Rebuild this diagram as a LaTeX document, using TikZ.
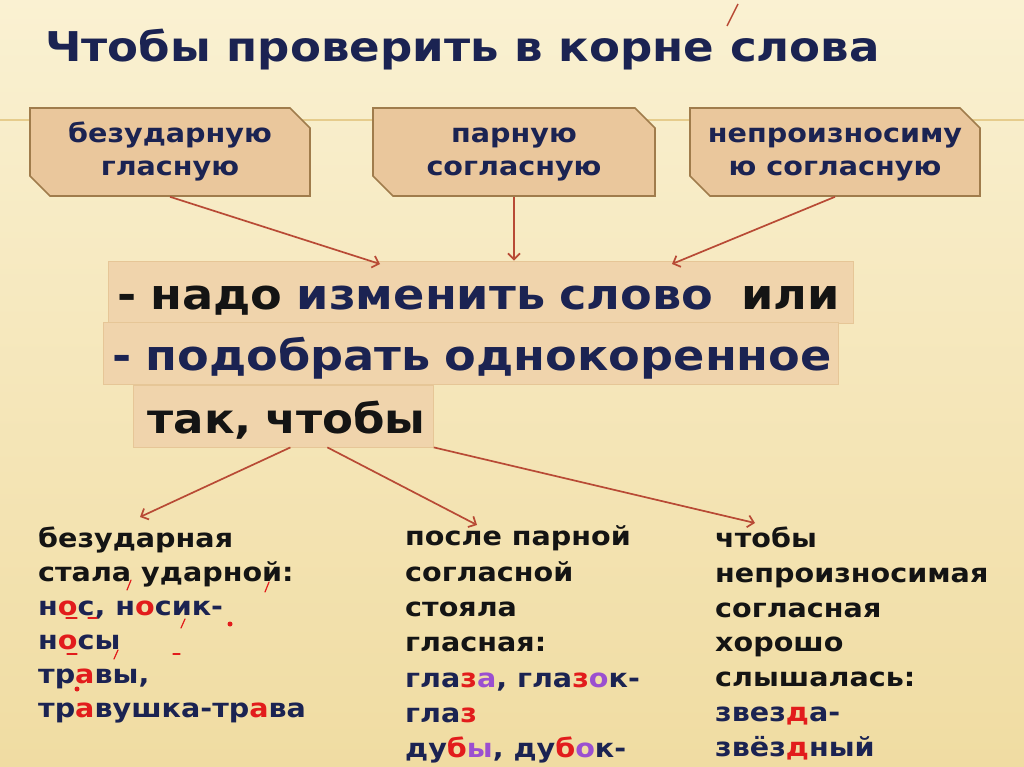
\documentclass[tikz,border=0pt]{standalone}
\usepackage{fontspec}
\setmainfont{DejaVu Sans}[FakeStretch=1.1]
\usetikzlibrary{arrows.meta, shapes.misc}

\definecolor{navy}{HTML}{1B2352}
\definecolor{inkblack}{HTML}{141414}
\definecolor{boxfill}{HTML}{EAC79C}
\definecolor{boxline}{HTML}{A07C4C}
\definecolor{bandfill}{HTML}{F0D4AC}
\definecolor{bandline}{HTML}{E6C697}
\definecolor{arrowred}{HTML}{B84A35}
\definecolor{letterred}{HTML}{E21C1C}
\definecolor{letterviolet}{HTML}{9B4FD0}
\definecolor{rulegold}{HTML}{E6CC8C}
\definecolor{bgtop}{HTML}{FAF1D2}
\definecolor{bgbottom}{HTML}{F0DCA2}

\newcommand{\redch}[1]{\textcolor{letterred}{#1}}
\newcommand{\violch}[1]{\textcolor{letterviolet}{#1}}

\begin{document}
\begin{tikzpicture}[x=1pt, y=-1pt,
    topbox/.style={chamfered rectangle, chamfered rectangle corners={north east, south west},
        chamfered rectangle xsep=10pt, chamfered rectangle ysep=10pt,
        draw=boxline, line width=1.6pt, fill=boxfill, text=navy, align=center,
        minimum height=88pt, font=\bfseries\fontsize{26}{33}\selectfont},
    band/.style={fill=bandfill, draw=bandline, line width=0.8pt, anchor=west, align=left,
        inner xsep=9pt, inner ysep=0pt, text height=48pt, text depth=14pt,
        font=\bfseries\fontsize{42}{48}\selectfont},
    column/.style={anchor=north west, align=left, inner sep=0pt, text=inkblack},
    pointer/.style={-{Straight Barb[length=6pt, width=12pt]}, draw=arrowred, line width=1.7pt},
    accent/.style={draw=letterred, line width=1.2pt, line cap=round}
]

% Background
\fill[top color=bgtop, bottom color=bgbottom] (0,0) rectangle (1024,767);
\useasboundingbox (0,0) rectangle (1024,767);
\draw[rulegold, line width=2pt] (0,120) -- (1024,120);

% Title
\node[anchor=base west, inner sep=0pt, text=navy, font=\bfseries\fontsize{41}{48}\selectfont]
    (title) at (45,62) {Чтобы проверить в корне слова};
\draw[arrowred, line width=1.5pt] (738,4) -- (727,26);

% Nodes
\node[topbox, minimum width=280pt] (unstressed) at (170,152) {\vphantom{б}безударную\\гласную};
\node[topbox, minimum width=282pt] (paired) at (514,152) {\vphantom{б}парную\\согласную};
\node[topbox, minimum width=290pt] (silent) at (835,152) {\vphantom{б}непроизносиму\\ю согласную};

\node[band, text width=727pt] (change) at (108,292)
    {\mbox{\textcolor{inkblack}{- надо} \textcolor{navy}{изменить слово}\ \ \textcolor{inkblack}{или}}};
\node[band, text width=717pt, text=navy] (pick) at (103,353)
    {\mbox{- подобрать однокоренное}};
\node[band, text width=272pt, inner xsep=14pt, text=inkblack, font=\bfseries\fontsize{41}{48}\selectfont]
    (sothat) at (133,416) {\mbox{так, чтобы}};

\node[column, font=\bfseries\fontsize{26}{34}\selectfont] (vowel) at (38,527)
    {безударная\\
     стала ударной:\\
     \textcolor{navy}{н\redch{о}с, н\redch{о}сик-}\\
     \textcolor{navy}{н\redch{о}сы}\\
     \textcolor{navy}{тр\redch{а}вы,}\\
     \textcolor{navy}{тр\redch{а}вушка-тр\redch{а}ва}};
\node[column, font=\bfseries\fontsize{26}{35.3}\selectfont] (pair) at (405,525)
    {\vphantom{б}после парной\\
     согласной\\
     стояла\\
     гласная:\\
     \textcolor{navy}{гла\redch{з}\violch{а}, гла\redch{з}\violch{о}к-}\\
     \textcolor{navy}{гла\redch{з}}\\
     \textcolor{navy}{ду\redch{б}\violch{ы}, ду\redch{б}\violch{о}к-}};
\node[column, font=\bfseries\fontsize{26}{34.7}\selectfont] (audible) at (715,527)
    {чтобы\\
     непроизносимая\\
     согласная\\
     хорошо\\
     слышалась:\\
     \textcolor{navy}{звез\redch{д}а-}\\
     \textcolor{navy}{звёз\redch{д}ный}};

% stress marks
\draw[accent] (131,580) -- (127,590);
\draw[accent] (269,582) -- (265,592);
\draw[accent] (185,619) -- (181,628);
\draw[accent] (118,650) -- (114,659);
\draw[accent] (66,618) -- (77,618);
\draw[accent] (88,618) -- (97,618);
\draw[accent] (67,654) -- (77,654);
\draw[accent] (173,654) -- (180,654);
\fill[letterred] (230,624) circle (2.5pt);
\fill[letterred] (77,689) circle (2.5pt);

% Arrows
\coordinate (in1) at (380,264);
\coordinate (in3) at (672,264);
\coordinate (tip1) at (140,517);
\coordinate (tip2) at (477,525);
\coordinate (tip3) at (755,523);

\draw[pointer] (unstressed.south) -- (in1);
\draw[pointer] (paired.south) -- (paired.south |- change.north);
\draw[pointer] (silent.south) -- (in3);
\draw[pointer] ([xshift=7pt]sothat.south) -- (tip1);
\draw[pointer] ([xshift=44pt]sothat.south) -- (tip2);
\draw[pointer] (sothat.south east) -- (tip3);

\end{tikzpicture}
\end{document}
